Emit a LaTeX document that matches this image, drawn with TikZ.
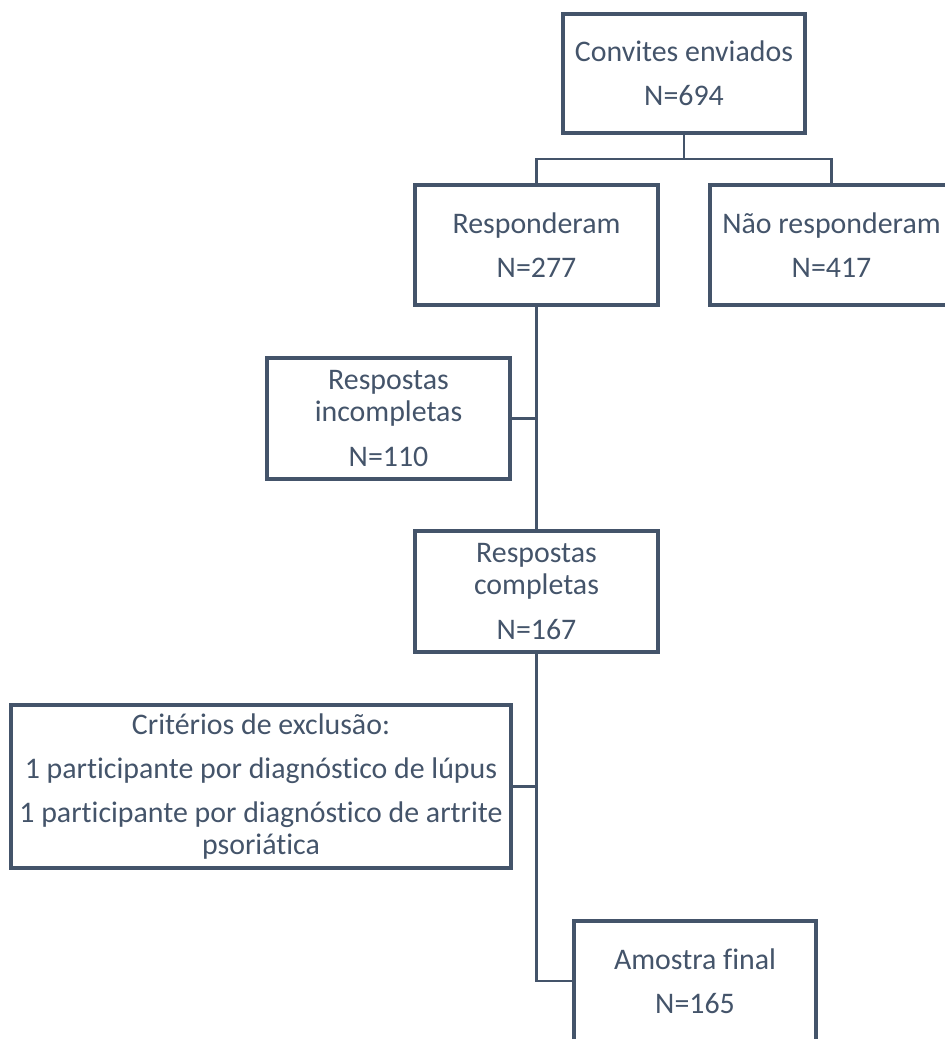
\documentclass[tikz,border=0pt]{standalone}
\usepackage{fontspec}
\usepackage{tikz}
\usetikzlibrary{positioning,calc}
\setmainfont{Carlito}[Ligatures=NoCommon]
\definecolor{SlateColor}{RGB}{68,84,106}

\begin{document}
\begin{tikzpicture}[x=0.02cm, y=-0.02cm,
    caixa/.style={draw=SlateColor, line width=0.08cm, text=SlateColor, align=center, inner sep=0pt, minimum width=4.86cm, minimum height=2.4cm},
    linha/.style={draw=SlateColor, line width=0.05cm},
    font=\fontsize{17}{18.2}\selectfont]
      \useasboundingbox (0,0) rectangle (945,1039);
      \clip (0,0) rectangle (945,1039);
      \node[caixa, minimum height=2.38cm] (conv) at (684,73.5) {Convites enviados\\[7pt]N=694};
      \node[caixa] (resp) at (536.5,245) {Responderam\\[7pt]N=277};
      \node[caixa] (nresp) at (831.5,245) {N\~ao responderam\\[7pt]N=417};
      \node[caixa, minimum height=2.42cm] (incomp) at (388.5,418.5) {Respostas\\incompletas\\[7pt]N=110};
      \node[caixa, minimum height=2.42cm] (comp) at (536.5,591.5) {Respostas\\completas\\[7pt]N=167};
      \node[caixa, minimum width=10cm, minimum height=3.26cm] (excl) at (261,786.5) {Crit\'erios de exclus\~ao:\\[7pt]1 participante por diagn\'ostico de l\'upus\\[7pt]1 participante por diagn\'ostico de artrite\\psori\'atica};
      \node[caixa] (final) at (695,981) {Amostra final\\[7pt]N=165};
      \coordinate (ramo) at (684,159);
      \draw[linha] (conv.south) -- (ramo);
      \draw[linha] (resp.north) |- (ramo) -| (nresp.north);
      \draw[linha] (resp.south) -- (comp.north);
      \draw[linha] (incomp.east) -- (incomp.east -| resp.south);
      \draw[linha] (comp.south) |- (final.west);
      \draw[linha] (excl.east) -- (excl.east -| comp.south);
    \end{tikzpicture}
\end{document}
